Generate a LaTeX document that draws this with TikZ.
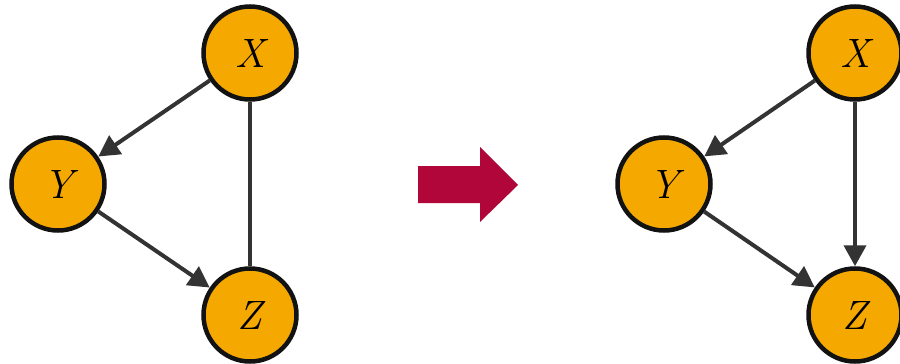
\documentclass[tikz,border=0pt]{standalone}
\usetikzlibrary{arrows.meta}
\definecolor{nodefill}{HTML}{F5A800}
\definecolor{edgecol}{HTML}{333333}
\definecolor{bigarrow}{HTML}{B0063A}
\begin{document}
\begin{tikzpicture}[x=1pt,y=-1pt,
  var/.style={circle,draw=black!93,line width=4.5pt,fill=nodefill,minimum size=93pt,inner sep=0pt,
    font=\fontsize{41}{43}\selectfont\itshape},
  edge/.style={draw=edgecol,line width=4pt},
  dir/.style={edge,-{Triangle[length=21pt,width=22pt]}}]
\useasboundingbox (0,0) rectangle (900,364);
% left graph
\node[var] (X1) at (250,53) {X};
\node[var] (Y1) at (58,184) {Y};
\node[var] (Z1) at (250,315) {Z};
\draw[dir] (X1) -- (Y1);
\draw[dir] (Y1) -- (Z1);
\draw[edge] (X1) -- (Z1);
% big arrow
\fill[bigarrow] (418,166) -- (480,166) -- (480,147) -- (518,185) -- (480,222) -- (480,203) -- (418,203) -- cycle;
% right graph
\node[var] (X2) at (855,53) {X};
\node[var] (Y2) at (664,184) {Y};
\node[var] (Z2) at (855,315) {Z};
\draw[dir] (X2) -- (Y2);
\draw[dir] (Y2) -- (Z2);
\draw[dir] (X2) -- (Z2);
\end{tikzpicture}
\end{document}
